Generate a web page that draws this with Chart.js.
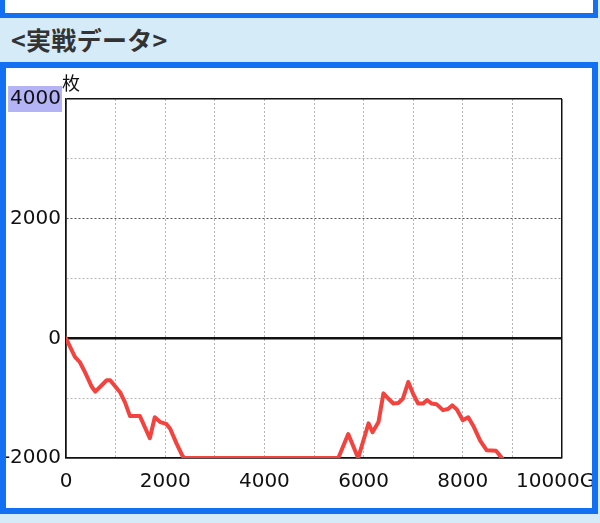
<!DOCTYPE html>
<html>
<head>
<meta charset="utf-8">
<script src="https://cdn.jsdelivr.net/npm/chart.js@4/dist/chart.umd.min.js"></script>
<style>
  body { margin: 0; width: 600px; height: 523px; background: #d5ebf8; position: relative; overflow: hidden; font-family: "Noto Sans CJK JP", sans-serif; }
  #topbox { position: absolute; left: 0; top: -10px; width: 588px; height: 23px; background: #fff; border: 5px solid #1470f2; border-top: 0; }
  #head { position: absolute; left: 11px; top: 21px; font-size: 25px; font-weight: bold; color: #333; letter-spacing: 0.3px; }
  #box { position: absolute; left: 0; top: 62px; width: 586px; height: 440px; background: #fff; border: 6px solid #1470f2; }
  #wrap { position: absolute; left: 6px; top: 68px; width: 586px; height: 439px; }
  #unit { position: absolute; left: 62px; top: 69px; font-size: 18px; color: #111; }
</style>
</head>
<body>
<div id="topbox"></div>
<div id="head">&lt;実戦データ&gt;</div>
<div id="box"></div>
<div id="wrap"><canvas id="c"></canvas></div>
<div id="unit">枚</div>
<script>
// games played (G) and coin balance (枚)
var games = [0,180,280,380,520,590,820,890,1090,1190,
             1290,1490,1690,1790,1900,2020,2100,2230,2350,2400,
             5490,5690,5890,6100,6180,6300,6400,6500,6600,6700,
             6790,6900,7000,7100,7200,7280,7370,7470,7600,7700,
             7790,7880,8000,8110,8210,8350,8480,8670,8750,8790];
var coins = [0,-310,-400,-560,-810,-890,-700,-700,-900,-1070,
             -1300,-1300,-1670,-1320,-1400,-1430,-1510,-1760,-1970,-2000,
             -2000,-1600,-2000,-1420,-1570,-1400,-920,-1010,-1090,-1080,
             -1010,-730,-930,-1090,-1090,-1030,-1090,-1100,-1200,-1180,
             -1120,-1190,-1370,-1320,-1460,-1710,-1870,-1880,-1960,-2000];
var yMin = -2000, yMax = 4000, xMin = 0, xMax = 10000;

var points = games.map(function(g, i){ return {x: g, y: coins[i]}; });

var canvas = document.getElementById('c');
canvas.style.width = '586px';
canvas.style.height = '439px';

var tickFont = {family: 'DejaVu Sans', size: 20};

new Chart(canvas, {
  type: 'line',
  data: {
    datasets: [{
      data: points,
      borderColor: '#f2433f',
      borderWidth: 4,
      pointRadius: 0,
      borderJoinStyle: 'round',
      borderCapStyle: 'round',
      tension: 0
    }]
  },
  options: {
    responsive: false,
    maintainAspectRatio: false,
    animation: false,
    layout: { padding: { top: 31, right: 30, left: 0, bottom: 0 } },
    plugins: { legend: { display: false }, tooltip: { enabled: false } },
    scales: {
      x: {
        type: 'linear', min: xMin, max: xMax,
        ticks: {
          stepSize: 1000, autoSkip: false, maxRotation: 0, padding: 12,
          color: '#111', font: tickFont,
          callback: function(v){
            if (v % 2000 !== 0) return '';
            return v === xMax ? '10000G  ' : String(v);
          }
        },
        grid: {
          drawTicks: false,
          color: function(ctx){ var v = ctx.tick && ctx.tick.value; return (v === xMin || v === xMax) ? '#111' : '#b5b5b5'; },
          lineWidth: function(ctx){ var v = ctx.tick && ctx.tick.value; return (v === xMin || v === xMax) ? 1.5 : 1; }
        },
        border: {
          display: true, color: '#111', width: 1.5,
          dash: function(ctx){ if (ctx.type !== 'tick') return []; var v = ctx.tick.value; return (v === xMin || v === xMax) ? [] : [2, 2]; }
        },
        afterFit: function(scale){ scale.height = 49; scale.paddingLeft = 0; scale.paddingRight = 0; }
      },
      y: {
        type: 'linear', min: yMin, max: yMax,
        ticks: {
          stepSize: 1000, autoSkip: false, padding: 5,
          color: '#111', font: tickFont,
          callback: function(v){ return v % 2000 === 0 ? String(v) : ''; },
          showLabelBackdrop: function(ctx){ return ctx.tick && ctx.tick.value === yMax; },
          backdropColor: '#b3b3f6',
          backdropPadding: {top: 1, bottom: 1, left: 2, right: 1}
        },
        grid: {
          drawTicks: false,
          color: function(ctx){
            var v = ctx.tick && ctx.tick.value;
            if (v === 0 || v === yMin || v === yMax) return '#111';
            if (v === 2000) return '#555';
            return '#b5b5b5';
          },
          lineWidth: function(ctx){
            var v = ctx.tick && ctx.tick.value;
            if (v === 0) return 2.5;
            if (v === yMin || v === yMax) return 1.5;
            return 1;
          }
        },
        border: {
          display: true, color: '#111', width: 1.5,
          dash: function(ctx){
            if (ctx.type !== 'tick') return [];
            var v = ctx.tick.value;
            return (v === 0 || v === yMin || v === yMax) ? [] : [2, 2];
          }
        },
        afterFit: function(scale){ scale.width = 60; scale.paddingTop = 0; scale.paddingBottom = 0; }
      }
    }
  }
});
</script>
</body>
</html>
